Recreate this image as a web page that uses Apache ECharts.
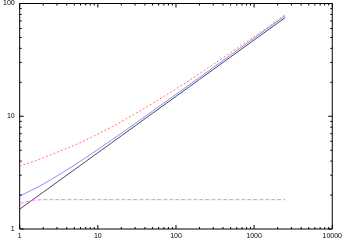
<!DOCTYPE html>
<html><head><meta charset="utf-8">
<script src="https://cdn.jsdelivr.net/npm/echarts@6/dist/echarts.min.js"></script>
<style>html,body{margin:0;padding:0;background:#fff}#c{width:345px;height:242px}</style>
</head><body><div id="c"></div>
<script>
var xs = [1, 1.5, 2, 3, 5, 7, 10, 15, 20, 30, 50, 70, 100, 150, 200, 300, 500, 700, 1000, 1500, 2000, 2500];
var blackVals = [1.5, 1.84, 2.12, 2.6, 3.35, 3.97, 4.74, 5.81, 6.71, 8.22, 10.61, 12.55, 15, 18.37, 21.21, 25.98, 33.54, 39.69, 47.43, 58.09, 67.08, 75];
var blueVals = [1.96, 2.25, 2.5, 2.95, 3.68, 4.29, 5.07, 6.15, 7.07, 8.62, 11.09, 13.1, 15.63, 19.13, 22.08, 27.03, 34.88, 41.26, 49.31, 60.39, 69.72, 77.95];
var redVals = [3.61, 3.97, 4.28, 4.78, 5.52, 6.15, 6.94, 8.03, 8.96, 10.51, 12.97, 14.98, 17.5, 20.97, 23.9, 28.81, 36.6, 42.93, 50.91, 61.89, 71.14, 79.3];
var magentaVals = [1.69, 1.8, 1.82, 1.82, 1.82, 1.82, 1.82, 1.82, 1.82, 1.82, 1.82, 1.82, 1.82, 1.82, 1.82, 1.82, 1.82, 1.82, 1.82, 1.82, 1.82, 1.82];
var xTickLabels = [1, 10, 100, 1000, 10000];
var yTickLabels = [1, 10, 100];

function pairs(v) { return xs.map(function (x, i) { return [x, v[i]]; }); }
function tickVals(decades) {
  var out = [];
  for (var d = 0; d < decades.length - 1; d++) {
    for (var m = 1; m <= 9; m++) out.push([decades[d] * m, m === 1 ? 1 : 0]);
  }
  out.push([decades[decades.length - 1], 1]);
  return out;
}
var xTicks = tickVals(xTickLabels);
var yTicks = tickVals(yTickLabels);
var XMIN = 1, XMAX = 10000, YMIN = 1, YMAX = 100;

var chart = echarts.init(document.getElementById('c'), null, {renderer: 'canvas'});
var lab = {fontFamily: 'Liberation Sans', fontSize: 7, color: '#000'};
chart.setOption({
  animation: false,
  grid: {left: 19, right: 11, top: 3, bottom: 13, show: true, borderColor: '#000', borderWidth: 1},
  xAxis: {type: 'log', logBase: 10, min: XMIN, max: XMAX,
    axisLine: {show: false}, axisTick: {show: false}, splitLine: {show: false},
    axisLabel: Object.assign({margin: 4, formatter: function (v) { return String(Math.round(v)); }}, lab)},
  yAxis: {type: 'log', logBase: 10, min: YMIN, max: YMAX,
    axisLine: {show: false}, axisTick: {show: false}, splitLine: {show: false},
    axisLabel: Object.assign({margin: 5, formatter: function (v) { return String(Math.round(v)); }}, lab)},
  series: [
    {type: 'custom', coordinateSystem: 'cartesian2d', clip: false, silent: true, z: 5,
      data: xTicks, renderItem: function (p, api) {
        var v = api.value(0), len = api.value(1) ? 4 : 2;
        var b = api.coord([v, YMIN]), t = api.coord([v, YMAX]);
        var st = {stroke: '#000', lineWidth: 1};
        return {type: 'group', children: [
          {type: 'line', shape: {x1: b[0], y1: b[1], x2: b[0], y2: b[1] - len}, style: st},
          {type: 'line', shape: {x1: t[0], y1: t[1], x2: t[0], y2: t[1] + len}, style: st}]};
      }},
    {type: 'custom', coordinateSystem: 'cartesian2d', clip: false, silent: true, z: 5,
      data: yTicks.map(function (d) { return [XMIN, d[0], d[1]]; }), renderItem: function (p, api) {
        var v = api.value(1), len = api.value(2) ? 4 : 2;
        var l = api.coord([XMIN, v]), r = api.coord([XMAX, v]);
        var st = {stroke: '#000', lineWidth: 1};
        return {type: 'group', children: [
          {type: 'line', shape: {x1: l[0], y1: l[1], x2: l[0] + len, y2: l[1]}, style: st},
          {type: 'line', shape: {x1: r[0], y1: r[1], x2: r[0] - len, y2: r[1]}, style: st}]};
      }},
    {type: 'line', data: pairs(redVals), showSymbol: false, symbol: 'none',
      lineStyle: {color: '#ff6a6a', width: 0.9, type: [2, 2]}},
    {type: 'line', data: pairs(blueVals), showSymbol: false, symbol: 'none',
      lineStyle: {color: '#8080ff', width: 0.9}},
    {type: 'line', data: pairs(blackVals), showSymbol: false, symbol: 'none',
      lineStyle: {color: '#333344', width: 0.9}},
    {type: 'line', data: pairs(magentaVals), showSymbol: false, symbol: 'none',
      lineStyle: {color: '#ff66ff', width: 0.9, type: [4, 2]}}
  ]
});
</script></body></html>
